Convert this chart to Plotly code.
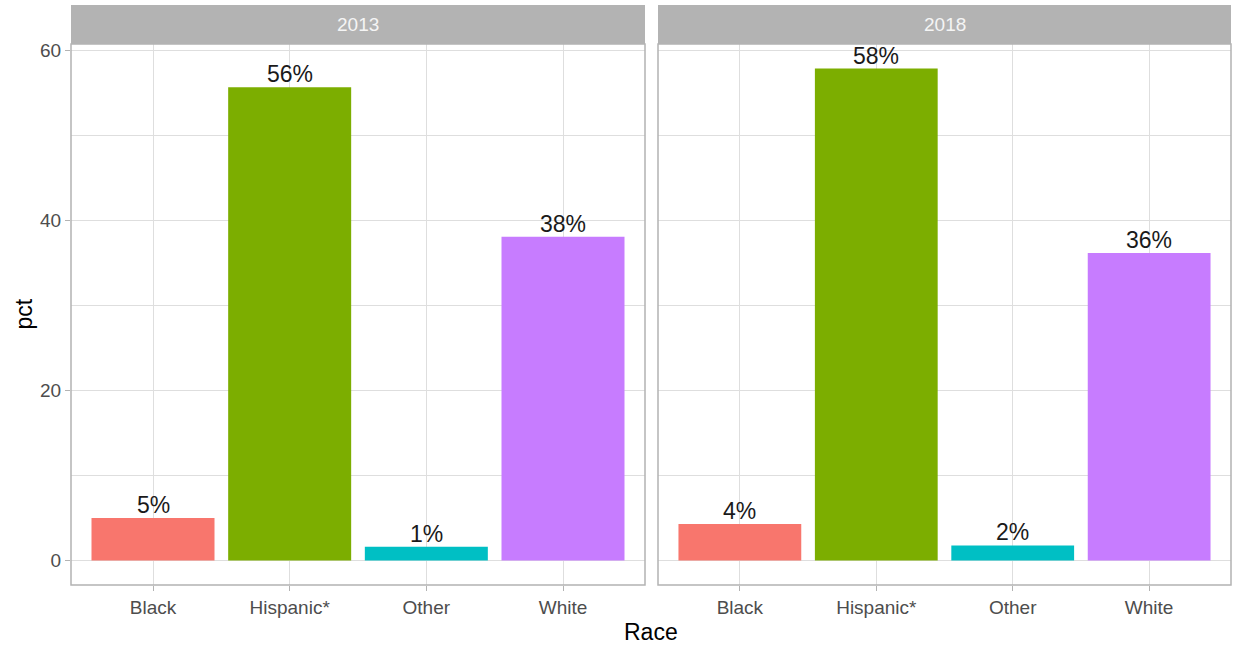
import plotly.graph_objects as go

categories = ["Black", "Hispanic*", "Other", "White"]
years = ["2013", "2018"]
pct_2013 = [5.0, 55.7, 1.6, 38.1]
pct_2018 = [4.3, 57.9, 1.76, 36.2]
labels_2013 = ["5%", "56%", "1%", "38%"]
labels_2018 = ["4%", "58%", "2%", "36%"]
colors = ["#F8766D", "#7CAE00", "#00BFC4", "#C77CFF"]
y_ticks = [0, 20, 40, 60]
y_minor = [10, 30, 50]

W, H = 1233, 645
FONT = "Liberation Sans, Arial, sans-serif"

def px_x(p):
    return p / W

def px_y(p):
    return (H - p) / H

panels = [(71, 645), (658, 1231)]
panel_top, panel_bot = 44, 585
strip_top = 5

fig = go.Figure()
series = [(pct_2013, labels_2013), (pct_2018, labels_2018)]
annotations = []
for i, (vals, labs) in enumerate(series):
    xa = "x" if i == 0 else "x2"
    ya = "y" if i == 0 else "y2"
    fig.add_trace(go.Bar(
        x=categories, y=vals,
        marker=dict(color=colors, line=dict(width=0)),
        width=0.9, showlegend=False, hoverinfo="x+y",
        xaxis=xa, yaxis=ya,
    ))
    for c, v, t in zip(categories, vals, labs):
        annotations.append(dict(text=t, x=c, y=v, xref=xa, yref=ya, showarrow=False,
                                xanchor="center", yanchor="bottom", yshift=-2,
                                font=dict(size=23, color="#1a1a1a", family=FONT)))

ymin, ymax = 0, max(max(pct_2013), max(pct_2018))
pad = (ymax - ymin) * 0.05
yr = [ymin - pad, ymax + pad]

grid = "#dedede"
tickfont = dict(size=19, color="#4d4d4d", family=FONT)

common_x = dict(
    type="category", range=[-0.6, 3.6], showgrid=True, gridcolor=grid, gridwidth=1,
    ticks="outside", ticklen=5, tickcolor="#b3b3b3", tickwidth=1,
    tickfont=tickfont, showline=False, zeroline=False, fixedrange=True,
    automargin=False,
)
common_y = dict(
    range=yr, tickvals=y_ticks, showgrid=True, gridcolor=grid, gridwidth=1,
    zeroline=False, showline=False, fixedrange=True, automargin=False,
    minor=dict(tickvals=y_minor, showgrid=True, gridcolor=grid, gridwidth=0.5, ticks=""),
    domain=[px_y(panel_bot), px_y(panel_top)],
)

fig.update_layout(
    template="none",
    width=W, height=H, margin=dict(l=0, r=0, t=0, b=0, pad=0, autoexpand=False),
    paper_bgcolor="white", plot_bgcolor="white",
    bargap=0.1, showlegend=False,
    xaxis=dict(common_x, domain=[px_x(panels[0][0]), px_x(panels[0][1])], anchor="y"),
    xaxis2=dict(common_x, domain=[px_x(panels[1][0]), px_x(panels[1][1])], anchor="y2"),
    yaxis=dict(common_y, anchor="x", ticks="outside", ticklen=5, tickcolor="#b3b3b3",
               tickwidth=1, tickfont=tickfont, showticklabels=True),
    yaxis2=dict(common_y, anchor="x2", showticklabels=False, ticks=""),
)

shapes = []
for (x0, x1), yr_lab in zip(panels, years):
    shapes.append(dict(type="rect", xref="paper", yref="paper",
                       x0=px_x(x0), x1=px_x(x1), y0=px_y(panel_bot), y1=px_y(panel_top),
                       line=dict(color="#b3b3b3", width=1.5), fillcolor="rgba(0,0,0,0)", layer="above"))
    shapes.append(dict(type="rect", xref="paper", yref="paper",
                       x0=px_x(x0), x1=px_x(x1), y0=px_y(panel_top), y1=px_y(strip_top),
                       line=dict(width=0), fillcolor="#b3b3b3"))
    annotations.append(dict(text=yr_lab, xref="paper", yref="paper",
                            x=(px_x(x0) + px_x(x1)) / 2, y=(px_y(panel_top) + px_y(strip_top)) / 2,
                            showarrow=False, font=dict(size=19, color="#f5f5f5", family=FONT),
                            xanchor="center", yanchor="middle"))

annotations.append(dict(text="Race", xref="paper", yref="paper",
                        x=px_x((panels[0][0] + panels[1][1]) / 2), y=px_y(632),
                        showarrow=False, font=dict(size=23, color="black", family=FONT),
                        xanchor="center", yanchor="middle"))
annotations.append(dict(text="pct", xref="paper", yref="paper",
                        x=px_x(23), y=px_y((panel_top + panel_bot) / 2), textangle=-90,
                        showarrow=False, font=dict(size=23, color="black", family=FONT),
                        xanchor="center", yanchor="middle"))

fig.update_layout(shapes=shapes, annotations=annotations)
fig.write_html("out.html", post_script="document.body.style.margin='0';",
               config={"displayModeBar": False})
